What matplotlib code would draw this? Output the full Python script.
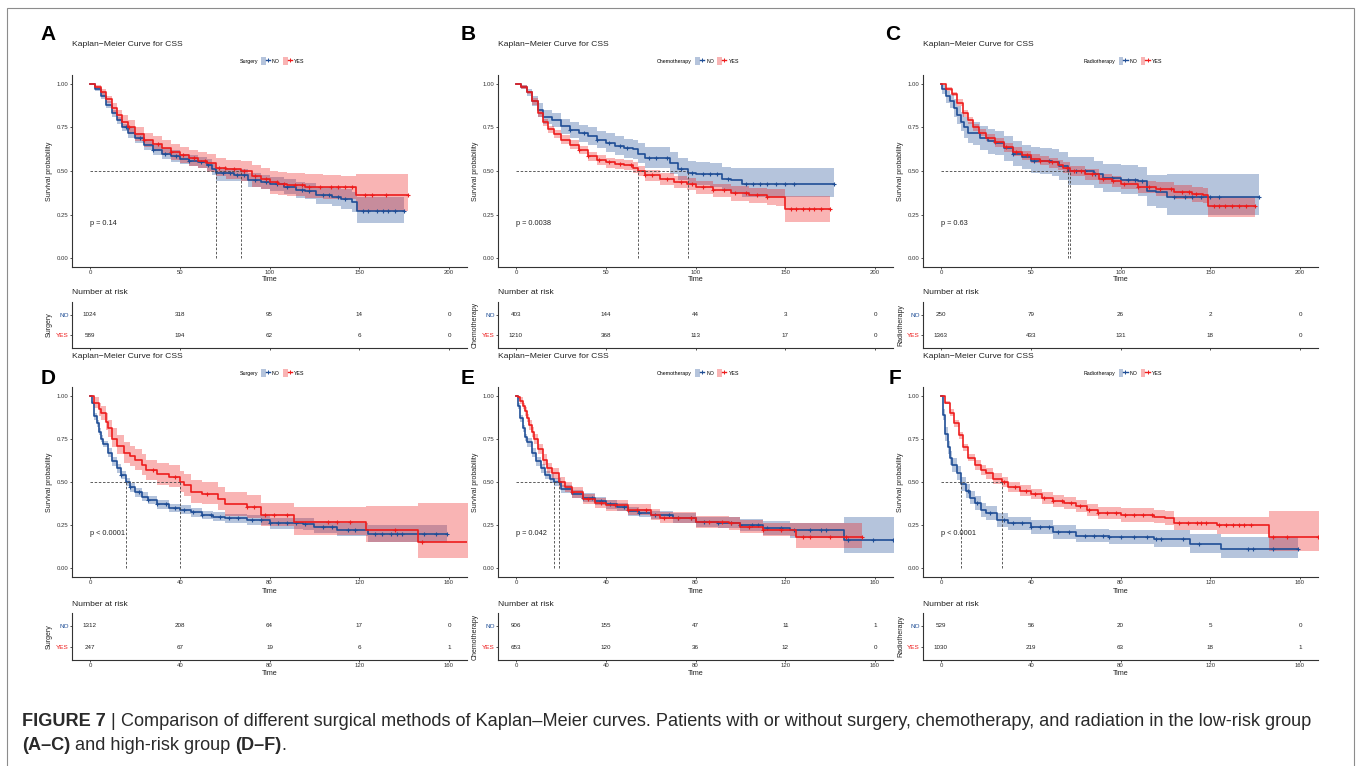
import numpy as np
import matplotlib
matplotlib.use('Agg')
import matplotlib.pyplot as plt
from matplotlib.patches import Patch, Rectangle
from matplotlib.lines import Line2D
from matplotlib.legend_handler import HandlerTuple

plt.rcParams['font.family'] = ['Liberation Sans', 'DejaVu Sans']

# ---- data (times in months, survival probability) ----
# Panel A: surgery, low-risk
A_no_t = [0, 3, 6, 9, 12, 15, 18, 21, 25, 30, 35, 40, 45, 50, 55, 60, 65, 68, 70, 80,
          88, 95, 100, 108, 115, 120, 126, 135, 140, 146, 149, 175]
A_no_s = [1.00, 0.97, 0.93, 0.88, 0.83, 0.79, 0.75, 0.72, 0.69, 0.65, 0.62, 0.60, 0.585, 0.57, 0.56, 0.55, 0.535, 0.51, 0.49, 0.475,
          0.45, 0.435, 0.425, 0.41, 0.39, 0.385, 0.36, 0.35, 0.34, 0.32, 0.27, 0.27]
A_no_lo = [1.00, 0.96, 0.91, 0.86, 0.81, 0.77, 0.73, 0.69, 0.66, 0.62, 0.59, 0.57, 0.55, 0.54, 0.53, 0.52, 0.50, 0.475, 0.445, 0.44,
           0.41, 0.395, 0.385, 0.37, 0.345, 0.34, 0.31, 0.30, 0.285, 0.265, 0.20, 0.20]
A_no_hi = [1.00, 0.98, 0.95, 0.90, 0.85, 0.81, 0.77, 0.75, 0.72, 0.68, 0.65, 0.63, 0.62, 0.60, 0.59, 0.58, 0.57, 0.545, 0.515, 0.51,
           0.49, 0.475, 0.465, 0.455, 0.435, 0.43, 0.41, 0.40, 0.395, 0.38, 0.35, 0.35]
A_no_cens = [20, 28, 35, 42, 48, 55, 62, 66, 74, 78, 82, 86, 92, 98, 104, 110, 118, 122, 130, 133,
             138, 142, 152, 155, 160, 163, 166, 170, 175]
A_yes_t = [0, 3, 6, 9, 12, 15, 18, 21, 25, 30, 35, 40, 45, 50, 55, 60, 65, 70, 76, 84,
           90, 95, 100, 105, 110, 120, 130, 140, 148, 177]
A_yes_s = [1.00, 0.98, 0.95, 0.91, 0.86, 0.82, 0.78, 0.75, 0.71, 0.68, 0.655, 0.63, 0.61, 0.59, 0.575, 0.56, 0.545, 0.52, 0.51, 0.50,
           0.47, 0.455, 0.435, 0.425, 0.42, 0.41, 0.41, 0.41, 0.36, 0.36]
A_yes_lo = [1.00, 0.97, 0.93, 0.89, 0.83, 0.79, 0.75, 0.71, 0.67, 0.64, 0.615, 0.59, 0.565, 0.545, 0.53, 0.515, 0.495, 0.47, 0.455, 0.445,
            0.41, 0.395, 0.37, 0.36, 0.355, 0.345, 0.34, 0.34, 0.27, 0.27]
A_yes_hi = [1.00, 0.99, 0.97, 0.93, 0.89, 0.85, 0.82, 0.79, 0.75, 0.72, 0.70, 0.675, 0.655, 0.635, 0.62, 0.61, 0.595, 0.575, 0.565, 0.56,
            0.535, 0.52, 0.50, 0.495, 0.49, 0.48, 0.475, 0.47, 0.48, 0.48]
A_yes_cens = [22, 30, 38, 45, 52, 58, 64, 72, 75, 80, 86, 92, 98, 104, 108, 114, 118, 122, 128, 134,
              138, 142, 146, 153, 157, 165, 177]
A_risk_no = [1024, 318, 95, 14, 0]
A_risk_yes = [589, 194, 62, 6, 0]

# Panel B: chemotherapy, low-risk
B_no_t = [0, 3, 6, 9, 12, 15, 20, 25, 30, 35, 40, 45, 50, 55, 60, 65, 68, 72, 80, 86,
          90, 96, 100, 108, 115, 120, 126, 177]
B_no_s = [1.00, 0.98, 0.95, 0.90, 0.85, 0.81, 0.79, 0.76, 0.735, 0.715, 0.70, 0.68, 0.66, 0.645, 0.63, 0.625, 0.60, 0.575, 0.575, 0.545,
          0.51, 0.49, 0.485, 0.48, 0.455, 0.45, 0.425, 0.425]
B_no_lo = [1.00, 0.97, 0.93, 0.87, 0.81, 0.77, 0.75, 0.71, 0.69, 0.665, 0.65, 0.63, 0.61, 0.59, 0.575, 0.57, 0.545, 0.52, 0.515, 0.485,
           0.45, 0.43, 0.42, 0.41, 0.385, 0.375, 0.35, 0.35]
B_no_hi = [1.00, 0.99, 0.97, 0.93, 0.89, 0.85, 0.83, 0.80, 0.78, 0.765, 0.75, 0.73, 0.715, 0.70, 0.685, 0.68, 0.66, 0.635, 0.635, 0.61,
           0.575, 0.555, 0.55, 0.545, 0.525, 0.52, 0.52, 0.52]
B_no_cens = [30, 38, 45, 52, 58, 62, 74, 78, 84, 92, 98, 104, 108, 112, 118, 128, 132, 136, 140, 145,
             150, 155, 177]
B_yes_t = [0, 3, 6, 9, 12, 15, 18, 21, 25, 30, 35, 40, 45, 50, 55, 60, 65, 68, 72, 80,
           88, 95, 100, 110, 120, 130, 140, 145, 150, 175]
B_yes_s = [1.00, 0.98, 0.95, 0.90, 0.83, 0.78, 0.74, 0.71, 0.68, 0.65, 0.62, 0.585, 0.565, 0.55, 0.54, 0.535, 0.52, 0.50, 0.475, 0.455,
           0.435, 0.425, 0.41, 0.39, 0.375, 0.36, 0.35, 0.35, 0.28, 0.28]
B_yes_lo = [1.00, 0.97, 0.94, 0.88, 0.81, 0.76, 0.72, 0.69, 0.655, 0.625, 0.595, 0.56, 0.535, 0.52, 0.51, 0.505, 0.49, 0.47, 0.445, 0.42,
            0.40, 0.39, 0.37, 0.35, 0.33, 0.315, 0.305, 0.30, 0.21, 0.21]
B_yes_hi = [1.00, 0.99, 0.96, 0.92, 0.85, 0.80, 0.76, 0.735, 0.705, 0.675, 0.645, 0.61, 0.59, 0.575, 0.57, 0.565, 0.55, 0.53, 0.505, 0.49,
            0.47, 0.46, 0.445, 0.425, 0.415, 0.405, 0.395, 0.395, 0.355, 0.355]
B_yes_cens = [35, 40, 46, 52, 58, 64, 72, 76, 84, 92, 98, 104, 110, 116, 122, 128, 134, 140, 153, 156,
              160, 163, 166, 170, 175]
B_risk_no = [403, 144, 44, 3, 0]
B_risk_yes = [1210, 368, 113, 17, 0]

# Panel C: radiotherapy, low-risk
C_no_t = [0, 0.5, 3, 5, 7, 9, 11, 13, 15, 18, 22, 26, 30, 35, 40, 45, 50, 55, 62, 66,
          71, 78, 85, 90, 100, 110, 115, 120, 126, 177]
C_no_s = [1.00, 0.97, 0.93, 0.90, 0.86, 0.82, 0.78, 0.75, 0.72, 0.715, 0.69, 0.67, 0.66, 0.63, 0.60, 0.58, 0.56, 0.555, 0.55, 0.53,
          0.50, 0.50, 0.48, 0.46, 0.45, 0.44, 0.385, 0.38, 0.35, 0.35]
C_no_lo = [1.00, 0.94, 0.89, 0.86, 0.81, 0.77, 0.73, 0.69, 0.66, 0.65, 0.62, 0.60, 0.59, 0.56, 0.53, 0.51, 0.49, 0.48, 0.47, 0.45,
           0.42, 0.42, 0.40, 0.38, 0.37, 0.355, 0.30, 0.29, 0.25, 0.25]
C_no_hi = [1.00, 0.99, 0.96, 0.94, 0.91, 0.87, 0.84, 0.81, 0.78, 0.78, 0.76, 0.74, 0.73, 0.70, 0.67, 0.65, 0.635, 0.63, 0.625, 0.61,
           0.58, 0.58, 0.56, 0.54, 0.535, 0.525, 0.475, 0.475, 0.48, 0.48]
C_no_cens = [40, 52, 60, 75, 80, 86, 95, 104, 108, 112, 130, 136, 140, 145, 150, 155, 177]
C_yes_t = [0, 3, 6, 9, 12, 15, 18, 21, 25, 30, 35, 40, 45, 50, 55, 60, 65, 68, 72, 80,
           88, 95, 100, 110, 120, 130, 140, 146, 149, 175]
C_yes_s = [1.00, 0.97, 0.94, 0.89, 0.83, 0.79, 0.75, 0.72, 0.69, 0.665, 0.635, 0.61, 0.59, 0.57, 0.56, 0.55, 0.535, 0.52, 0.50, 0.48,
           0.455, 0.44, 0.425, 0.41, 0.395, 0.38, 0.37, 0.36, 0.30, 0.30]
C_yes_lo = [1.00, 0.96, 0.93, 0.87, 0.81, 0.77, 0.73, 0.70, 0.67, 0.64, 0.61, 0.585, 0.565, 0.545, 0.535, 0.52, 0.505, 0.49, 0.47, 0.45,
            0.425, 0.41, 0.395, 0.375, 0.355, 0.34, 0.325, 0.315, 0.235, 0.235]
C_yes_hi = [1.00, 0.98, 0.95, 0.91, 0.85, 0.81, 0.77, 0.74, 0.71, 0.69, 0.66, 0.635, 0.615, 0.595, 0.585, 0.575, 0.565, 0.55, 0.53, 0.51,
            0.485, 0.47, 0.455, 0.445, 0.435, 0.42, 0.41, 0.405, 0.35, 0.35]
C_yes_cens = [30, 36, 42, 48, 55, 62, 70, 74, 78, 84, 90, 96, 102, 110, 116, 122, 128, 134, 138, 142,
              152, 155, 158, 162, 166, 170, 175]
C_risk_no = [250, 79, 26, 2, 0]
C_risk_yes = [1363, 433, 131, 18, 0]

# Panel D: surgery, high-risk
D_no_t = [0, 1, 2, 3, 4, 5, 6, 8, 10, 12, 14, 16, 18, 20, 23, 26, 30, 35, 40, 45,
          50, 55, 60, 70, 80, 95, 100, 110, 124, 159]
D_no_s = [1.00, 0.96, 0.88, 0.84, 0.79, 0.75, 0.72, 0.67, 0.62, 0.58, 0.54, 0.50, 0.47, 0.44, 0.415, 0.395, 0.37, 0.35, 0.34, 0.325,
          0.31, 0.30, 0.29, 0.28, 0.26, 0.255, 0.24, 0.22, 0.20, 0.20]
D_no_lo = [1.00, 0.95, 0.86, 0.82, 0.77, 0.73, 0.70, 0.645, 0.595, 0.555, 0.515, 0.475, 0.445, 0.415, 0.39, 0.37, 0.345, 0.325, 0.315, 0.30,
           0.285, 0.275, 0.265, 0.25, 0.23, 0.22, 0.205, 0.185, 0.155, 0.155]
D_no_hi = [1.00, 0.97, 0.90, 0.86, 0.81, 0.77, 0.74, 0.695, 0.645, 0.605, 0.565, 0.525, 0.495, 0.465, 0.44, 0.42, 0.395, 0.375, 0.365, 0.35,
           0.335, 0.325, 0.315, 0.31, 0.29, 0.29, 0.275, 0.26, 0.25, 0.25]
D_no_cens = [14, 18, 22, 26, 30, 34, 38, 42, 46, 50, 54, 58, 62, 66, 72, 76, 80, 84, 88, 92,
             96, 104, 108, 115, 118, 127, 130, 134, 137, 139, 149, 154, 159]
D_yes_t = [0, 2, 4, 5, 7, 8, 10, 12, 15, 18, 20, 23, 25, 30, 35, 40, 42, 45, 50, 57,
           60, 70, 76, 91, 123, 146, 170]
D_yes_s = [1.00, 0.96, 0.92, 0.90, 0.85, 0.81, 0.75, 0.71, 0.67, 0.65, 0.63, 0.60, 0.57, 0.545, 0.53, 0.50, 0.48, 0.44, 0.43, 0.40,
           0.37, 0.355, 0.31, 0.27, 0.22, 0.15, 0.15]
D_yes_lo = [1.00, 0.93, 0.88, 0.86, 0.80, 0.76, 0.70, 0.66, 0.61, 0.59, 0.57, 0.54, 0.51, 0.48, 0.47, 0.44, 0.42, 0.38, 0.37, 0.34,
            0.305, 0.29, 0.245, 0.195, 0.15, 0.06, 0.06]
D_yes_hi = [1.00, 0.99, 0.96, 0.94, 0.90, 0.86, 0.81, 0.77, 0.73, 0.71, 0.69, 0.66, 0.63, 0.61, 0.60, 0.565, 0.545, 0.51, 0.50, 0.47,
            0.44, 0.425, 0.38, 0.355, 0.36, 0.38, 0.38]
D_yes_cens = [28, 38, 52, 70, 73, 78, 82, 88, 106, 110, 116, 136, 148]
D_risk_no = [1312, 208, 64, 17, 0]
D_risk_yes = [247, 67, 19, 6, 1]

# Panel E: chemotherapy, high-risk
E_no_t = [0, 1, 2, 3, 4, 5, 7, 9, 11, 13, 15, 17, 20, 25, 30, 35, 40, 45, 50, 55,
          60, 70, 80, 90, 100, 110, 122, 146, 170]
E_no_s = [1.00, 0.94, 0.87, 0.81, 0.76, 0.73, 0.67, 0.62, 0.58, 0.54, 0.52, 0.50, 0.46, 0.43, 0.41, 0.39, 0.37, 0.355, 0.33, 0.32,
          0.31, 0.29, 0.27, 0.265, 0.25, 0.235, 0.22, 0.165, 0.165]
E_no_lo = [1.00, 0.92, 0.85, 0.79, 0.74, 0.705, 0.645, 0.595, 0.555, 0.515, 0.495, 0.475, 0.435, 0.405, 0.385, 0.365, 0.345, 0.33, 0.305, 0.295,
           0.285, 0.26, 0.24, 0.235, 0.215, 0.195, 0.175, 0.09, 0.09]
E_no_hi = [1.00, 0.96, 0.89, 0.83, 0.78, 0.755, 0.695, 0.645, 0.605, 0.565, 0.545, 0.525, 0.485, 0.455, 0.435, 0.415, 0.395, 0.38, 0.355, 0.345,
           0.335, 0.32, 0.30, 0.295, 0.285, 0.275, 0.265, 0.30, 0.30]
E_no_cens = [30, 34, 38, 42, 48, 55, 62, 68, 72, 78, 84, 90, 96, 100, 105, 108, 112, 118, 124, 131,
             136, 138, 148, 159, 168]
E_yes_t = [0, 1, 2, 3, 4, 5, 6, 7, 8, 10, 12, 14, 16, 19, 22, 25, 30, 35, 40, 50,
           60, 64, 80, 95, 100, 110, 125, 154]
E_yes_s = [1.00, 0.99, 0.97, 0.94, 0.91, 0.87, 0.83, 0.79, 0.75, 0.69, 0.63, 0.58, 0.55, 0.50, 0.47, 0.44, 0.40, 0.38, 0.365, 0.34,
           0.31, 0.29, 0.27, 0.26, 0.24, 0.22, 0.18, 0.18]
E_yes_lo = [1.00, 0.98, 0.95, 0.92, 0.885, 0.845, 0.80, 0.76, 0.72, 0.66, 0.60, 0.55, 0.52, 0.47, 0.44, 0.41, 0.37, 0.35, 0.335, 0.31,
            0.28, 0.26, 0.235, 0.225, 0.205, 0.185, 0.12, 0.12]
E_yes_hi = [1.00, 1.00, 0.99, 0.96, 0.935, 0.895, 0.86, 0.82, 0.78, 0.72, 0.66, 0.61, 0.58, 0.53, 0.50, 0.47, 0.43, 0.41, 0.395, 0.37,
            0.345, 0.325, 0.305, 0.30, 0.28, 0.26, 0.265, 0.265]
E_yes_cens = [25, 32, 38, 44, 50, 54, 58, 66, 72, 78, 86, 92, 96, 104, 110, 118, 128, 131, 140, 147, 154]
E_risk_no = [906, 155, 47, 11, 1]
E_risk_yes = [653, 120, 36, 12, 0]

# Panel F: radiotherapy, high-risk
F_no_t = [0, 1, 2, 3, 4, 5, 7, 9, 11, 13, 15, 18, 20, 25, 30, 40, 50, 60, 75, 95,
          111, 125, 159]
F_no_s = [1.00, 0.89, 0.78, 0.70, 0.64, 0.60, 0.55, 0.49, 0.45, 0.41, 0.38, 0.34, 0.32, 0.28, 0.26, 0.24, 0.21, 0.19, 0.18, 0.17,
          0.14, 0.11, 0.11]
F_no_lo = [1.00, 0.86, 0.74, 0.66, 0.60, 0.56, 0.51, 0.45, 0.41, 0.37, 0.34, 0.30, 0.28, 0.24, 0.22, 0.20, 0.17, 0.15, 0.14, 0.125,
           0.09, 0.06, 0.06]
F_no_hi = [1.00, 0.92, 0.82, 0.74, 0.68, 0.64, 0.59, 0.53, 0.49, 0.45, 0.42, 0.38, 0.36, 0.32, 0.30, 0.28, 0.25, 0.23, 0.225, 0.22,
           0.20, 0.18, 0.18]
F_no_cens = [12, 16, 22, 28, 32, 36, 40, 44, 48, 52, 57, 64, 68, 72, 75, 80, 86, 92, 96, 98,
             108, 115, 137, 139, 148, 159]
F_yes_t = [0, 2, 4, 6, 8, 10, 12, 15, 18, 20, 23, 27, 30, 35, 40, 45, 50, 55, 60, 65,
           70, 80, 95, 100, 104, 123, 146, 170]
F_yes_s = [1.00, 0.96, 0.90, 0.84, 0.77, 0.70, 0.64, 0.60, 0.57, 0.55, 0.52, 0.50, 0.47, 0.45, 0.43, 0.41, 0.39, 0.38, 0.36, 0.34,
           0.32, 0.31, 0.30, 0.29, 0.26, 0.25, 0.18, 0.18]
F_yes_lo = [1.00, 0.95, 0.88, 0.82, 0.75, 0.68, 0.62, 0.57, 0.54, 0.52, 0.49, 0.47, 0.44, 0.42, 0.40, 0.375, 0.355, 0.345, 0.325, 0.305,
            0.285, 0.27, 0.26, 0.25, 0.22, 0.20, 0.10, 0.10]
F_yes_hi = [1.00, 0.97, 0.92, 0.86, 0.79, 0.72, 0.66, 0.63, 0.60, 0.58, 0.55, 0.53, 0.50, 0.48, 0.46, 0.445, 0.425, 0.415, 0.395, 0.375,
            0.355, 0.35, 0.34, 0.33, 0.30, 0.30, 0.335, 0.335]
F_yes_cens = [28, 33, 38, 42, 46, 50, 54, 58, 62, 66, 70, 74, 78, 82, 86, 90, 94, 106, 110, 114,
              116, 118, 124, 127, 130, 133, 135, 138, 148, 154, 168]
F_risk_no = [529, 56, 20, 5, 0]
F_risk_yes = [1030, 219, 63, 18, 1]

letters = ['A', 'B', 'C', 'D', 'E', 'F']
treatments = ['Surgery', 'Chemotherapy', 'Radiotherapy'] * 2
p_labels = ['p = 0.14', 'p = 0.0038', 'p = 0.63', 'p < 0.0001', 'p = 0.042', 'p < 0.0001']
time_breaks_low = [0, 50, 100, 150, 200]
time_breaks_high = [0, 40, 80, 120, 160]

# ---- layout (pixels) ----
W, H = 1357, 766
BLUE = '#1F4E96'
RED = '#EE1C1C'
DARK = '#333333'

fig = plt.figure(figsize=(W / 100, H / 100), dpi=100)


def box(x0, y0, x1, y1):
    return [x0 / W, 1 - y1 / H, (x1 - x0) / W, (y1 - y0) / H]


def ftext(x, y, s, **kw):
    return fig.text(x / W, 1 - y / H, s, **kw)


def surv_at(t, s, x):
    idx = np.searchsorted(t, x, side='right') - 1
    return np.asarray(s)[idx]


def median_time(t, s):
    s = np.asarray(s)
    return np.asarray(t)[np.argmax(s <= 0.5)]


def style_axis(ax):
    for side in ['top', 'right']:
        ax.spines[side].set_visible(False)
    for side in ['left', 'bottom']:
        ax.spines[side].set_color(DARK)
        ax.spines[side].set_linewidth(0.8)
    ax.tick_params(labelsize=4.3, length=1.6, width=0.6, pad=0.8, color=DARK, labelcolor=DARK)


cols_px = [(72, 467), (498, 893), (923, 1318)]
rows_px = [dict(km=(75, 267), risk=(302, 348), title=45, legend=61, letter=35, nar=293,
                breaks=time_breaks_low, tlab=9),
           dict(km=(387, 577), risk=(613, 660), title=357, legend=373, letter=378, nar=604,
                breaks=time_breaks_high, tlab=11)]
letter_x = [48, 468, 893, 48, 468, 895]

curves = [
    [(A_no_t, A_no_s, A_no_lo, A_no_hi, A_no_cens), (A_yes_t, A_yes_s, A_yes_lo, A_yes_hi, A_yes_cens)],
    [(B_no_t, B_no_s, B_no_lo, B_no_hi, B_no_cens), (B_yes_t, B_yes_s, B_yes_lo, B_yes_hi, B_yes_cens)],
    [(C_no_t, C_no_s, C_no_lo, C_no_hi, C_no_cens), (C_yes_t, C_yes_s, C_yes_lo, C_yes_hi, C_yes_cens)],
    [(D_no_t, D_no_s, D_no_lo, D_no_hi, D_no_cens), (D_yes_t, D_yes_s, D_yes_lo, D_yes_hi, D_yes_cens)],
    [(E_no_t, E_no_s, E_no_lo, E_no_hi, E_no_cens), (E_yes_t, E_yes_s, E_yes_lo, E_yes_hi, E_yes_cens)],
    [(F_no_t, F_no_s, F_no_lo, F_no_hi, F_no_cens), (F_yes_t, F_yes_s, F_yes_lo, F_yes_hi, F_yes_cens)],
]
risks = [(A_risk_no, A_risk_yes), (B_risk_no, B_risk_yes), (C_risk_no, C_risk_yes),
         (D_risk_no, D_risk_yes), (E_risk_no, E_risk_yes), (F_risk_no, F_risk_yes)]

for i in range(6):
    row = rows_px[i // 3]
    x0, x1 = cols_px[i % 3]
    breaks = row['breaks']
    xmax = breaks[-1]
    xlim = (-0.05 * xmax, 1.05 * xmax)

    # survival curves
    ax = fig.add_axes(box(x0, row['km'][0], x1, row['km'][1]))
    for (t, s, lo, hi, c), col in zip(curves[i], [BLUE, RED]):
        ax.fill_between(t, lo, hi, step='post', color=col, alpha=0.33, lw=0)
    meds = []
    for (t, s, lo, hi, c), col in zip(curves[i], [BLUE, RED]):
        ax.step(t, s, where='post', color=col, lw=1.2)
        ax.plot(c, surv_at(t, s, c), ls='none', marker='+', ms=3.4, mew=0.8, color=col)
        meds.append(median_time(t, s))
    ax.plot([0, max(meds)], [0.5, 0.5], ls=(0, (3, 2)), color='#444444', lw=0.6)
    for m in meds:
        ax.plot([m, m], [0, 0.5], ls=(0, (3, 2)), color='#444444', lw=0.6)
    ax.text(0, 0.2, p_labels[i], fontsize=5.3, va='center', ha='left', color='#222222')
    ax.set_xlim(*xlim)
    ax.set_ylim(-0.05, 1.05)
    ax.set_xticks(breaks)
    ax.set_yticks([0, 0.25, 0.5, 0.75, 1.0])
    ax.set_yticklabels(['0.00', '0.25', '0.50', '0.75', '1.00'])
    style_axis(ax)
    h_km = row['km'][1] - row['km'][0]
    ax.set_ylabel('Survival probability', fontsize=5, color='#222222')
    ax.yaxis.set_label_coords(-19 / (x1 - x0), 0.5)
    ax.set_xlabel('Time', fontsize=5.2, color='#222222')
    ax.xaxis.set_label_coords(0.5, -row['tlab'] / h_km)

    # title, letter, legend
    ftext(x0, row['title'], 'Kaplan\u2212Meier Curve for CSS', fontsize=6.1, va='center', color='#222222')
    ftext(letter_x[i], row['letter'], letters[i], fontsize=15, fontweight='bold', va='center', ha='center')
    handles = [Line2D([], [], alpha=0)]
    for col in [BLUE, RED]:
        handles.append((Patch(facecolor=col, alpha=0.33, lw=0),
                        Line2D([], [], color=col, lw=1.0, marker='+', ms=3.2, mew=0.7)))
    ax.legend(handles, [treatments[i], 'NO', 'YES'], ncol=3, loc='center',
              bbox_to_anchor=((x0 + x1) / 2 / W - 3 / W, 1 - row['legend'] / H),
              bbox_transform=fig.transFigure, frameon=False, fontsize=3.8,
              handlelength=1.7, handleheight=1.7, handletextpad=0.4, columnspacing=0.6,
              borderpad=0, handler_map={tuple: HandlerTuple(ndivide=None)})

    # risk table
    rax = fig.add_axes(box(x0, row['risk'][0], x1, row['risk'][1]))
    rax.set_xlim(*xlim)
    rax.set_ylim(-0.6, 1.6)
    for yrow, vals in [(1, risks[i][0]), (0, risks[i][1])]:
        for xb, v in zip(breaks, vals):
            rax.text(xb, yrow, str(v), ha='center', va='center', fontsize=4.5, color='#222222')
    rax.set_xticks(breaks)
    rax.set_yticks([0, 1])
    rax.set_yticklabels(['YES', 'NO'])
    style_axis(rax)
    rax.tick_params(axis='y', labelsize=4.6)
    for lab, col in zip(rax.get_yticklabels(), [RED, BLUE]):
        lab.set_color(col)
    rax.set_ylabel(treatments[i], fontsize=5, color='#222222')
    rax.yaxis.set_label_coords(-19 / (x1 - x0), 0.5)
    if i < 3:
        rax.tick_params(axis='x', labelbottom=False)
    else:
        rax.set_xlabel('Time', fontsize=5.2, color='#222222')
        rax.xaxis.set_label_coords(0.5, -10 / (row['risk'][1] - row['risk'][0]))
    ftext(x0, row['nar'], 'Number at risk', fontsize=6.1, va='center', color='#222222')

# outer frame
fig.add_artist(Rectangle((7 / W, -0.01), (1354 - 7) / W, 1.01 - 8 / H, transform=fig.transFigure,
                         fill=False, ec='#8c8c8c', lw=0.8))

# caption with bold runs
renderer = fig.canvas.get_renderer()
CAP = 13.1
space = 0.278 * CAP * 100 / 72


def caption_line(y, parts):
    x = 22
    for txt, weight, gap in parts:
        x += gap * space
        t = ftext(x, y, txt, fontsize=CAP, fontweight=weight, va='center', color='#2a2a2a')
        x += t.get_window_extent(renderer).width


caption_line(722, [('FIGURE 7', 'bold', 0), ('|', 'normal', 1),
                   ('Comparison of different surgical methods of Kaplan\u2013Meier curves. Patients with or without '
                    'surgery, chemotherapy, and radiation in the low-risk group', 'normal', 1)])
caption_line(746, [('(A\u2013C)', 'bold', 0), ('and high-risk group', 'normal', 1),
                   ('(D\u2013F)', 'bold', 1), ('.', 'normal', 0)])

fig.savefig('out.png', dpi=100)
